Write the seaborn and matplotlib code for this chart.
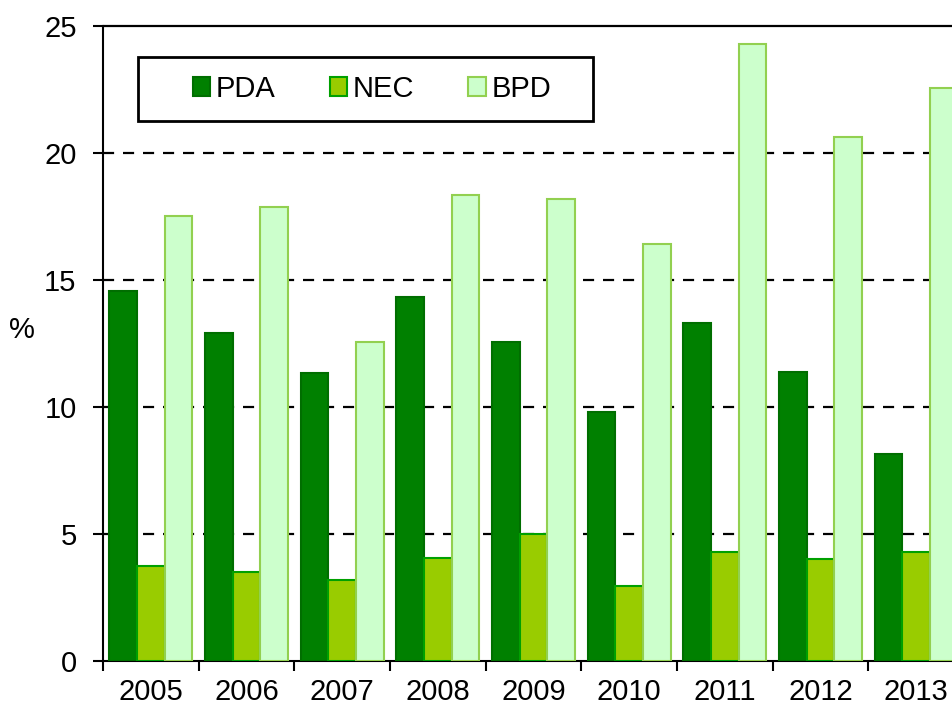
import numpy as np
import pandas as pd
import seaborn as sns
import matplotlib.pyplot as plt
from matplotlib.patches import Patch, Rectangle

years = ["2005", "2006", "2007", "2008", "2009", "2010", "2011", "2012", "2013"]
pda = [14.57, 12.9, 11.33, 14.33, 12.58, 9.8, 13.3, 11.37, 8.17]
nec = [3.74, 3.5, 3.18, 4.05, 5.0, 2.96, 4.28, 4.02, 4.28]
bpd = [17.52, 17.88, 12.55, 18.35, 18.2, 16.42, 24.3, 20.63, 22.55]
series = ["PDA", "NEC", "BPD"]

face = {"PDA": "#008000", "NEC": "#99CC00", "BPD": "#CCFFCC"}
edge = {"PDA": "#006E00", "NEC": "#00A000", "BPD": "#92D050"}

df = pd.DataFrame({"year": years * 3,
                   "value": pda + nec + bpd,
                   "series": np.repeat(series, len(years))})

sns.set_style("white")
plt.rcParams.update({
    "font.family": ["Liberation Sans", "DejaVu Sans"],
    "text.color": "black",
    "axes.labelcolor": "black",
    "xtick.color": "black",
    "ytick.color": "black",
})

fig = plt.figure(figsize=(9.53, 7.06), dpi=100)
ax = fig.add_axes([0.108, 0.0637, 0.9036, 0.8994])

sns.barplot(data=df, x="year", y="value", hue="series", hue_order=series,
            palette=face, saturation=1, width=0.87, ax=ax, legend=False,
            zorder=3)

for cont, name in zip(ax.containers, series):
    for bar in cont:
        bar.set_edgecolor(edge[name])
        bar.set_linewidth(1.5)

ax.set_xlim(-0.5, len(years) - 0.5)
ax.set_ylim(0, 25)
ax.set_yticks([0, 5, 10, 15, 20, 25])
for v in [5, 10, 15, 20]:
    ax.axhline(v, color="black", lw=1.6, ls=(0, (5, 4)), zorder=1)
ax.axhline(25, color="black", lw=1.6, zorder=1, clip_on=False)

ax.set_xticks(np.arange(-0.5, len(years), 1.0))
ax.set_xticklabels([])
ax.set_xticks(np.arange(len(years)), minor=True)
ax.set_xticklabels(years, minor=True)
ax.tick_params(axis="x", which="minor", length=0, labelsize=21, pad=12)
ax.tick_params(axis="x", which="major", direction="out", length=7, width=1.5,
               bottom=True)
ax.tick_params(axis="y", direction="out", length=7, width=1.5,
               left=True, labelsize=21, pad=12)

ax.set_xlabel("")
ax.set_ylabel("%", rotation=0, fontsize=21, va="center", ha="center")
ax.yaxis.set_label_coords(-0.094, 0.521)

for side in ["top", "right"]:
    ax.spines[side].set_visible(False)
for side in ["left", "bottom"]:
    ax.spines[side].set_color("black")
    ax.spines[side].set_linewidth(1.5)

# legend: handles with the same face/edge as the bars, frame drawn by hand
handles = [Patch(facecolor=face[s], edgecolor=edge[s], linewidth=1.5, label=s)
           for s in series]
fig.legend(handles=handles, ncol=3, loc="center",
           bbox_to_anchor=(372 / 953, 1 - 89 / 706),
           fontsize=21, frameon=False, handlelength=0.6, handleheight=0.6,
           handletextpad=0.2, columnspacing=1.85)
fig.patches.append(Rectangle((138 / 953, 1 - 121 / 706), 455 / 953, 64 / 706,
                             transform=fig.transFigure, fill=False,
                             edgecolor="black", linewidth=2))

fig.savefig("out.png", dpi=100)
